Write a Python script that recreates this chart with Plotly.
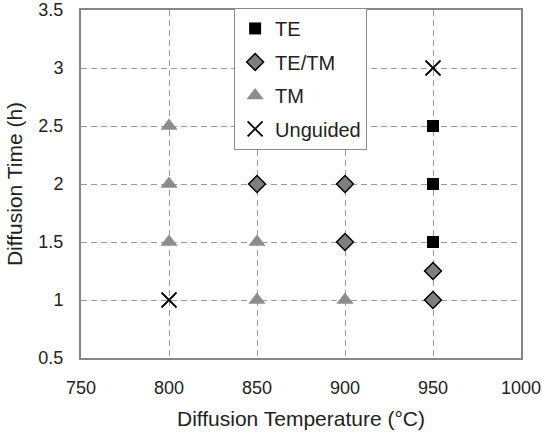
import plotly.graph_objects as go

te_x = [950, 950, 950]
te_y = [1.5, 2.0, 2.5]
tetm_x = [850, 900, 900, 950, 950]
tetm_y = [2.0, 2.0, 1.5, 1.25, 1.0]
tm_x = [800, 800, 800, 850, 850, 900]
tm_y = [2.5, 2.0, 1.5, 1.5, 1.0, 1.0]
ung_x = [800, 950]
ung_y = [1.0, 3.0]

fig = go.Figure()
fig.add_trace(go.Scatter(x=te_x, y=te_y, mode="markers", name="TE", legendgroup="a",
                         marker=dict(symbol="square", size=12, color="black")))
fig.add_trace(go.Scatter(x=tetm_x, y=tetm_y, mode="markers", name="TE/TM", legendgroup="b",
                         marker=dict(symbol="diamond", size=13, color="#7f7f7f",
                                     line=dict(color="black", width=1.5))))
fig.add_trace(go.Scatter(x=tm_x, y=tm_y, mode="markers", name="TM", legendgroup="c",
                         marker=dict(symbol="triangle-up", size=15, color="#8c8c8c")))
fig.add_trace(go.Scatter(x=ung_x, y=ung_y, mode="markers", name="Unguided", legendgroup="d",
                         marker=dict(symbol="x-thin-open", size=15, color="black",
                                     line=dict(color="black", width=1.8))))

axis_common = dict(
    showgrid=True, gridcolor="#9a9a9a", griddash="6px,4px", gridwidth=1,
    showline=True, linecolor="#868686", linewidth=2, mirror=True,
    zeroline=False, ticks="", tickfont=dict(size=18, color="#222"),
    automargin=False, ticklabeloverflow="allow",
)

fig.update_layout(
    width=542, height=436,
    margin=dict(l=81, r=21, t=9, b=78),
    paper_bgcolor="white", plot_bgcolor="white",
    font=dict(family="Liberation Sans, Arial, sans-serif", color="#222"),
    xaxis=dict(range=[750, 1000], dtick=50, tick0=750, ticklabelstandoff=12,
               title=dict(text="Diffusion Temperature (°C)", font=dict(size=21), standoff=15),
               **axis_common),
    yaxis=dict(range=[0.5, 3.5], dtick=0.5, tick0=0.5, ticklabelstandoff=12,
               title=dict(text="Diffusion Time (h)", font=dict(size=21), standoff=10),
               **axis_common),
    legend=dict(x=0.348, y=1.003, xanchor="left", yanchor="top",
                bgcolor="white", bordercolor="#8a8a8a", borderwidth=1,
                font=dict(size=20), traceorder="grouped", tracegroupgap=4.5,
                itemwidth=30),
    showlegend=True,
)

fig.write_html("out.html", config={"displayModeBar": False},
               post_script="document.body.style.margin='0';document.body.style.overflow='hidden';")
